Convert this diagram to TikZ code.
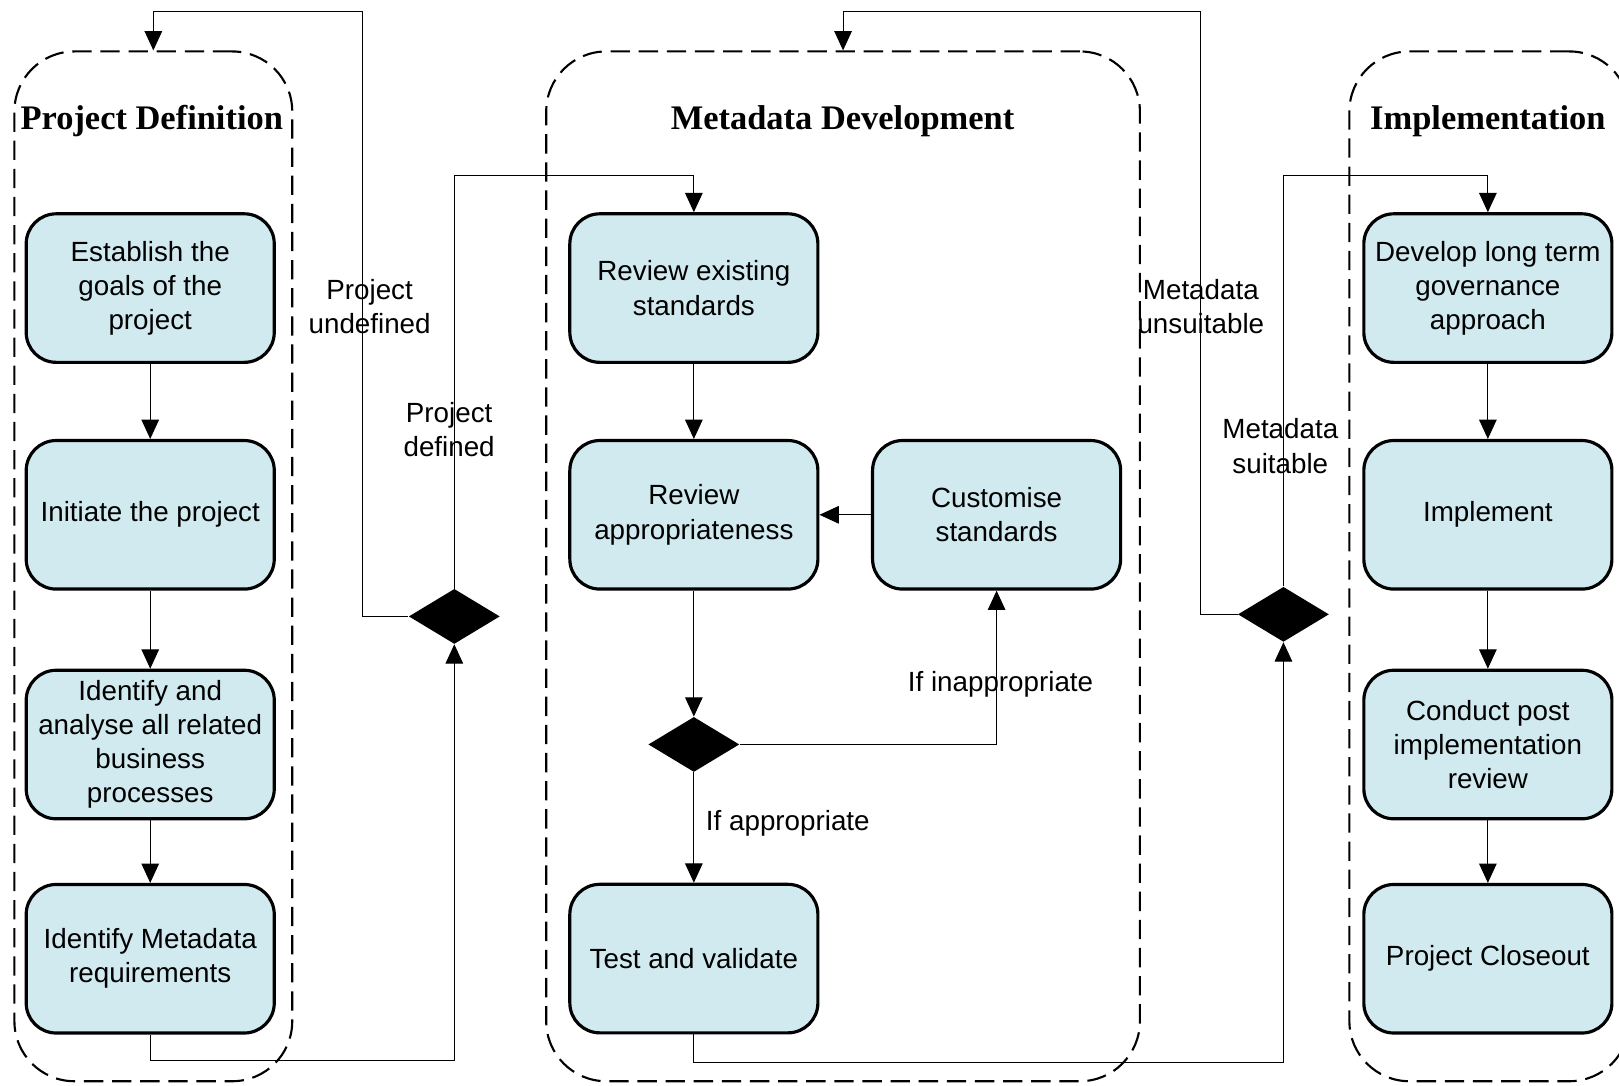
\documentclass[tikz,border=0pt]{standalone}
\usepackage{fontspec}
\setmainfont{Liberation Sans}
\newfontfamily\titlefont{Liberation Serif}
\usetikzlibrary{positioning,calc,shapes.geometric,arrows.meta}
\definecolor{boxblue}{RGB}{209,234,239}

\begin{document}
\begin{tikzpicture}[x=0.02065cm,y=-0.02065cm,
  stage/.style={draw=black,line width=1.8pt,fill=boxblue,rounded corners=0.6cm,
    minimum width=4.96cm,minimum height=2.97cm,align=center,inner sep=2pt,
    font=\fontsize{15.8}{19.4}\selectfont},
  group/.style={draw=black,line width=1.2pt,dash pattern=on 11pt off 5pt,
    rounded corners=1.2cm,inner sep=0pt},
  decision/.style={diamond,fill=black,inner sep=0pt,minimum width=1.82cm,minimum height=1.1cm},
  flow/.style={-{Triangle[width=10pt,length=11pt]},line width=0.6pt},
  lbl/.style={align=center,font=\fontsize{15.8}{19.4}\selectfont},
  title/.style={font=\titlefont\bfseries\fontsize{19.6}{23}\selectfont}]
  \path[use as bounding box,clip] (0,0) rectangle (1568,1051);
  % swim lanes
  \node[group,minimum width=5.555cm,minimum height=20.59cm] (pd) at (148.5,548.5) {};
  \node[group,minimum width=11.87cm,minimum height=20.59cm] (md) at (816.5,548.5) {};
  \node[group,minimum width=5.60cm,minimum height=20.59cm] (im) at (1442.5,548.5) {};
  \node[title] (pdtitle) at (147,117) {Project Definition};
  \node[title] (mdtitle) at (816,117) {Metadata Development};
  \node[title] (imtitle) at (1441,117) {Implementation};
  % project definition
  \node[stage] (goals) at (145.5,279) {Establish the\\goals of the\\project};
  \node[stage,below=1.50cm of goals] (initiate) {Initiate the project};
  \node[stage,below=1.56cm of initiate] (analyse) {Identify and\\analyse all related\\business\\processes};
  \node[stage,below=1.25cm of analyse] (needs) {Identify Metadata\\requirements};
  \node[decision] (pddec) at (440,597) {};
  % metadata development
  \node[stage] (review) at (672,279) {Review existing\\standards};
  \node[stage,below=1.50cm of review] (approp) {Review\\appropriateness};
  \node[stage,right=1.03cm of approp] (custom) {Customise\\standards};
  \node[decision] (mddec) at (672,721) {};
  \node[stage,below=5.84cm of approp] (test) {Test and validate};
  \node[decision] (chkdec) at (1243,595) {};
  % implementation
  \node[stage] (govern) at (1441,279) {Develop long term\\governance\\approach};
  \node[stage,below=1.50cm of govern] (implement) {Implement};
  \node[stage,below=1.56cm of implement] (post) {Conduct post\\implementation\\review};
  \node[stage,below=1.25cm of post] (close) {Project Closeout};
  \coordinate (pdret) at (351,11);
  \coordinate (mdret) at (1163,11);
  % connectors
  \draw[flow] (goals) -- (initiate);
  \draw[flow] (initiate) -- (analyse);
  \draw[flow] (analyse) -- (needs);
  \draw[flow] (needs.south) -- ++(0,25) -| (pddec.south);
  \draw[flow] (pddec.west) -| (pdret) -| (pd.north);
  \draw[flow] (pddec.north) |- ($(review.north)+(0,-36)$) -- (review.north);
  \draw[flow] (review) -- (approp);
  \draw[flow] (approp) -- (mddec);
  \draw[flow] (mddec.east) -| (custom.south);
  \draw[flow] (custom) -- (approp);
  \draw[flow] (mddec) -- (test);
  \draw[flow] (test.south) -- ++(0,27) -| (chkdec.south);
  \draw[flow] (chkdec.west) -| (mdret) -| (md.north);
  \draw[flow] (chkdec.north) |- ($(govern.north)+(0,-36)$) -- (govern.north);
  \draw[flow] (govern) -- (implement);
  \draw[flow] (implement) -- (post);
  \draw[flow] (post) -- (close);
  % labels
  \node[lbl] (undef) at (358,297) {Project\\undefined};
  \node[lbl] (def) at (435,416) {Project\\defined};
  \node[lbl] (unsuit) at (1163,297) {Metadata\\unsuitable};
  \node[lbl] (suit) at (1240,432) {Metadata\\suitable};
  \node[lbl] (inapp) at (969,663) {If inappropriate};
  \node[lbl] (app) at (763,797) {If appropriate};
\end{tikzpicture}
\end{document}
